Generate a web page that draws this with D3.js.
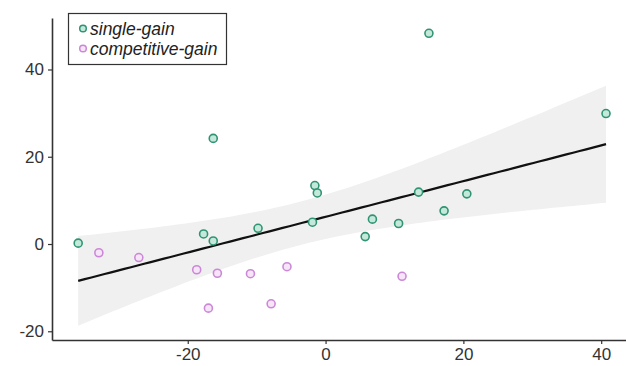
<!DOCTYPE html>
<html>
<head>
<meta charset="utf-8">
<script src="https://d3js.org/d3.v7.min.js"></script>
<style>
  body { margin: 0; background: #fff; }
  text { font-family: "Liberation Sans", Arial, sans-serif; }
</style>
</head>
<body>
<div id="chart"></div>
<script>
// values
const singleX = [-35.9, -17.7, -16.3, -16.3, -9.8, -1.55, -1.2, -1.9, 5.75, 6.8, 10.6, 13.5, 17.2, 20.5, 15.0, 40.7];
const singleY = [0.2, 2.3, 0.7, 24.2, 3.6, 13.4, 11.7, 5.0, 1.7, 5.7, 4.7, 11.9, 7.6, 11.5, 48.3, 29.9];
const compX = [-32.9, -27.1, -18.7, -15.7, -17.0, -10.9, -5.6, -7.9, 11.1];
const compY = [-2.0, -3.1, -5.9, -6.7, -14.7, -6.8, -5.2, -13.7, -7.4];
const xTicks = [-20, 0, 20, 40];
const yTicks = [-20, 0, 20, 40];
const groups = ["single-gain", "competitive-gain"];

const width = 626, height = 366;
const svg = d3.select("#chart").append("svg")
  .attr("width", width).attr("height", height);

const x = d3.scaleLinear().domain([-39.7, 43.6]).range([52, 626]);
const y = d3.scaleLinear().domain([51.8, -22]).range([18, 340]);

const pts = singleX.map((v, i) => ({x: v, y: singleY[i], g: 0}))
  .concat(compX.map((v, i) => ({x: v, y: compY[i], g: 1})));

// linear fit + 95% confidence band (like geom_smooth(method = "lm"))
const n = pts.length;
const mx = d3.mean(pts, d => d.x), my = d3.mean(pts, d => d.y);
const sxx = d3.sum(pts, d => (d.x - mx) ** 2);
const sxy = d3.sum(pts, d => (d.x - mx) * (d.y - my));
const b = sxy / sxx, a = my - b * mx;
const s = Math.sqrt(d3.sum(pts, d => (d.y - a - b * d.x) ** 2) / (n - 2));
const t = 2.069;
const xmin = d3.min(pts, d => d.x), xmax = d3.max(pts, d => d.x);
const grid = d3.range(0, 81).map(i => xmin + (xmax - xmin) * i / 80);
const band = grid.map(v => {
  const fit = a + b * v;
  const se = s * Math.sqrt(1 / n + (v - mx) ** 2 / sxx);
  return {x: v, fit: fit, lo: fit - t * se, hi: fit + t * se};
});

svg.append("path")
  .datum(band)
  .attr("fill", "#f0f0f0")
  .attr("d", d3.area().x(d => x(d.x)).y0(d => y(d.lo)).y1(d => y(d.hi)));

svg.append("path")
  .datum(band)
  .attr("fill", "none")
  .attr("stroke", "#111")
  .attr("stroke-width", 2.2)
  .attr("d", d3.line().x(d => x(d.x)).y(d => y(d.fit)));

// axes (hyphen minus like the original)
const fmt = d => String(d);
const xAxis = svg.append("g")
  .attr("transform", "translate(0,340)")
  .call(d3.axisBottom(x).tickValues(xTicks).tickFormat(fmt).tickSizeInner(4).tickSizeOuter(0).tickPadding(4));
const yAxis = svg.append("g")
  .attr("transform", "translate(52,0)")
  .call(d3.axisLeft(y).tickValues(yTicks).tickFormat(fmt).tickSizeInner(4).tickSizeOuter(0).tickPadding(4));
[xAxis, yAxis].forEach(g => {
  g.select(".domain").attr("stroke", "#333").attr("stroke-width", 1.6);
  g.selectAll(".tick line").attr("stroke", "#333").attr("stroke-width", 1.2);
  g.selectAll(".tick text").attr("fill", "#333").style("font-size", "17px")
    .style("font-family", "Liberation Sans, Arial, sans-serif");
});

const stroke = ["#2f9473", "#cc88d8"];
const fill = ["#c4e8da", "#f6e4f7"];

svg.append("g")
  .selectAll("circle")
  .data(pts)
  .join("circle")
  .attr("cx", d => x(d.x))
  .attr("cy", d => y(d.y))
  .attr("r", 4)
  .attr("fill", d => fill[d.g])
  .attr("stroke", d => stroke[d.g])
  .attr("stroke-width", 1.6);

// legend
const legend = svg.append("g");
legend.append("rect")
  .attr("x", 68.5).attr("y", 13.5).attr("width", 158).attr("height", 51)
  .attr("fill", "#fff").attr("stroke", "#333").attr("stroke-width", 1.2);
groups.forEach((name, i) => {
  legend.append("circle")
    .attr("cx", 83).attr("cy", 28.5 + i * 20).attr("r", 3.3)
    .attr("fill", fill[i]).attr("stroke", stroke[i]).attr("stroke-width", 1.5);
  legend.append("text")
    .attr("x", 90).attr("y", 28.5 + i * 20).attr("dy", "0.35em")
    .style("font-size", "17.5px").style("font-style", "italic")
    .attr("fill", "#222")
    .text(name);
});
</script>
</body>
</html>
